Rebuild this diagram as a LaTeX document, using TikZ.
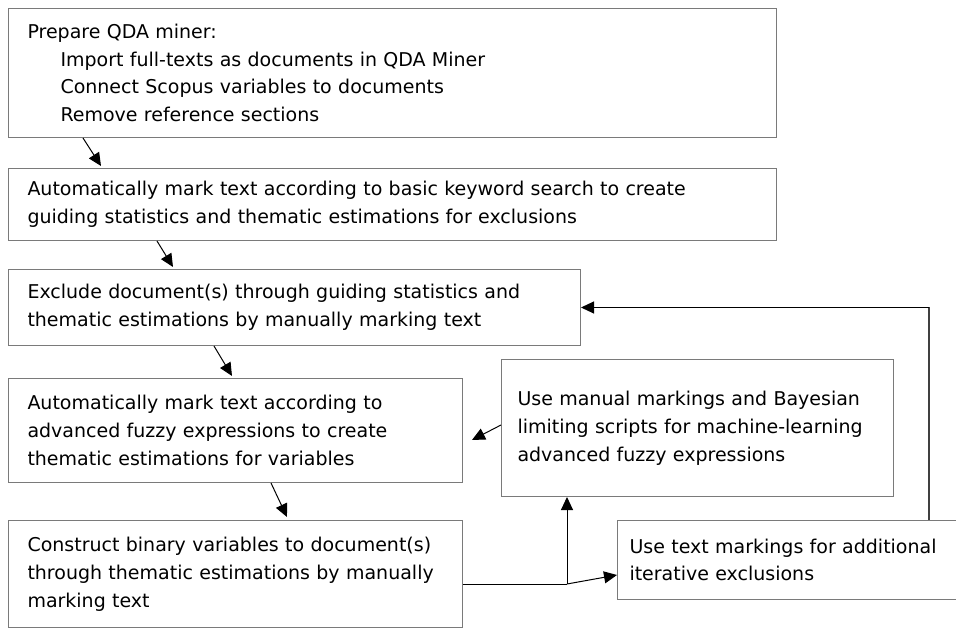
\documentclass[tikz,border=0pt]{standalone}
\usepackage{fontspec}
\setmainfont{DejaVu Sans}
\usetikzlibrary{arrows.meta,calc}
\begin{document}
\begin{tikzpicture}[x=1pt,y=-1pt,
  box/.style={draw=black!52, line width=1pt, rectangle, anchor=north west,
    align=left, font=\fontsize{19}{27.8}\selectfont, inner ysep=0pt},
  flow/.style={draw=black, line width=1pt, -{Triangle[length=13pt,width=12pt]}},
  plain/.style={draw=black, line width=1pt},
  darkline/.style={draw=black!75, line width=1.8pt}]
\fill[white] (0,0) rectangle (956,628);
\useasboundingbox (0,0) rectangle (956,628);

\node[box, minimum width=768pt, minimum height=129pt, inner xsep=19pt, text width=730pt] (b1) at (8,8)
  {Prepare QDA miner:\\
   \hspace*{33pt}Import full-texts as documents in QDA Miner\\
   \hspace*{33pt}Connect Scopus variables to documents\\
   \hspace*{33pt}Remove reference sections};
\node[box, minimum width=768pt, minimum height=72pt, inner xsep=19pt, text width=730pt] (b2) at (8,168)
  {Automatically mark text according to basic keyword search to create\\
   guiding statistics and thematic estimations for exclusions};
\node[box, minimum width=572pt, minimum height=76pt, inner xsep=19pt, text width=534pt] (b3) at (8,269)
  {Exclude document(s) through guiding statistics and\\
   thematic estimations by manually marking text};
\node[box, minimum width=454pt, minimum height=104pt, inner xsep=19pt, text width=416pt] (b4) at (8,378)
  {Automatically mark text according to\\
   advanced fuzzy expressions to create\\
   thematic estimations for variables};
\node[box, minimum width=454pt, minimum height=107pt, inner xsep=19pt, text width=416pt] (b5) at (8,520)
  {Construct binary variables to document(s)\\
   through thematic estimations by manually\\
   marking text};
\node[box, minimum width=392pt, minimum height=137pt, inner xsep=16pt, text width=360pt] (b6) at (501,359)
  {Use manual markings and Bayesian\\
   limiting scripts for machine-learning\\
   advanced fuzzy expressions};
\node[box, minimum width=350pt, minimum height=79pt, inner xsep=12pt, text width=326pt] (b7) at (617,520)
  {Use text markings for additional\\
   iterative exclusions};

\draw[flow] ($(b1.south west)+(75,0)$) -- ($(b2.north west)+(93,-2)$);
\draw[flow] ($(b2.south west)+(149,0)$) -- ($(b3.north west)+(165,-2)$);
\draw[flow] ($(b3.south west)+(206,0)$) -- ($(b4.north west)+(224,-2)$);
\draw[flow] ($(b4.south west)+(263,0)$) -- ($(b5.north west)+(279,-3)$);
\draw[flow] ($(b6.north west)+(0,66)$) -- ($(b4.north east)+(9,62)$);

\coordinate (j) at ($(b5.north east)+(104,64)$);
\draw[plain] ($(b5.north east)+(0,64)$) -- (j);
\draw[flow] (j) -- (j |- b6.south);
\draw[flow] (j) -- ($(b7.north west)+(0,55)$);

\coordinate (r) at ($(b7.north west)+(312,0)$);
\coordinate (c) at (r |- b3.east);
\draw[darkline] (r) -- ($(c)+(0,-0.5)$);
\draw[flow] (c) -- (b3.east);
\end{tikzpicture}
\end{document}
